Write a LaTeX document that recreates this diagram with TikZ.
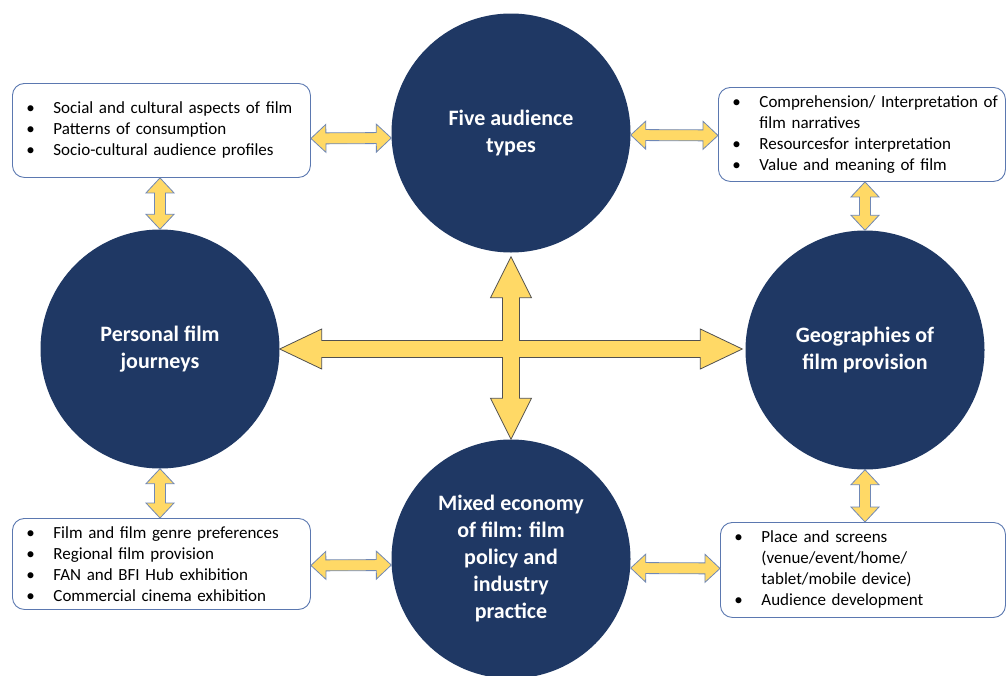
\documentclass[tikz,border=0pt]{standalone}
\usepackage{fontspec}
\setmainfont{Carlito}
\usetikzlibrary{calc}

\definecolor{hubnavy}{HTML}{1F3864}
\definecolor{gold}{HTML}{FFD966}
\definecolor{boxline}{HTML}{5B78B0}
\definecolor{arrowline}{HTML}{7088B5}
\definecolor{crossline}{HTML}{505050}

% bullet and continuation indent for the list boxes
\newcommand{\bul}{\hspace*{14pt}\makebox[27pt][l]{\textbullet}}
\newcommand{\cont}{\hspace*{41pt}}

\begin{document}
\begin{tikzpicture}[x=1pt,y=-1pt,
  hub/.style={circle, fill=hubnavy, minimum size=239pt, inner sep=0pt,
    text=white, font=\fontsize{22}{27}\selectfont\bfseries, align=center},
  infobox/.style={draw=boxline, line width=0.9pt, rounded corners=12pt,
    fill=white, inner xsep=0pt, inner ysep=0pt, align=left,
    font=\fontsize{17}{21}\selectfont, anchor=north west},
  % outlined double-headed block arrow between two points
  fat/.style={draw=arrowline, fill=gold, line width=0.8pt, line join=miter,
    to path={
      -- ($(\tikztostart)!15pt!(\tikztotarget)!14pt!90:(\tikztotarget)$)
      -- ($(\tikztostart)!15pt!(\tikztotarget)!5.5pt!90:(\tikztotarget)$)
      -- ($(\tikztotarget)!15pt!(\tikztostart)!5.5pt!-90:(\tikztostart)$)
      -- ($(\tikztotarget)!15pt!(\tikztostart)!14pt!-90:(\tikztostart)$)
      -- (\tikztotarget)
      -- ($(\tikztotarget)!15pt!(\tikztostart)!14pt!90:(\tikztostart)$)
      -- ($(\tikztotarget)!15pt!(\tikztostart)!5.5pt!90:(\tikztostart)$)
      -- ($(\tikztostart)!15pt!(\tikztotarget)!5.5pt!-90:(\tikztotarget)$)
      -- ($(\tikztostart)!15pt!(\tikztotarget)!14pt!-90:(\tikztotarget)$)
      -- cycle}},
  crossarrow/.style={draw=crossline, fill=gold, line width=0.8pt, line join=miter}
]
\useasboundingbox (0,0) rectangle (1007,675);

% the four hubs
\node[hub] (T) at (511,133) {Five audience\\types};
\node[hub] (L) at (160,349) {Personal film\\journeys};
\node[hub] (R) at (865,350) {Geographies of\\film provision};
\node[hub] (B) at (511,559) {Mixed economy\\of film: film\\policy and\\industry\\practice};

% the four list boxes
\node[infobox, text width=298pt, minimum height=94pt] (TL) at (12,83)
  {\bul Social and cultural aspects of film\\
   \bul Patterns of consumption\\
   \bul Socio-cultural audience profiles};
\node[infobox, text width=287pt, minimum height=94pt] (TR) at (718,87)
  {\bul Comprehension/ Interpretation of\\
   \cont film narratives\\
   \bul Resourcesfor interpretation\\
   \bul Value and meaning of film};
\node[infobox, text width=298pt, minimum height=91pt] (BL) at (12,518)
  {\bul Film and film genre preferences\\
   \bul Regional film provision\\
   \bul FAN and BFI Hub exhibition\\
   \bul Commercial cinema exhibition};
\node[infobox, text width=285pt, minimum height=95pt] (BR) at (720,522)
  {\bul Place and screens\\
   \cont (venue/event/home/\\
   \cont tablet/mobile device)\\
   \bul Audience development};

% central four-way arrow joining the hubs
\coordinate (X) at (T.south |- L.east);
\draw[crossarrow] (L.east)
  -- ($(L.east)+(42,-20)$) -- ($(L.east)+(42,-8.5)$)
  -- ($(X)+(-8.5,-8.5)$)
  -- ($(T.south)+(-8.5,45)$) -- ($(T.south)+(-20.5,45)$)
  -- ($(T.south)+(0,4)$)
  -- ($(T.south)+(20.5,45)$) -- ($(T.south)+(8.5,45)$)
  -- ($(X)+(8.5,-8.5)$)
  -- ($(R.west |- X)+(-45,-8.5)$) -- ($(R.west |- X)+(-45,-20)$)
  -- ($(R.west |- X)+(-3,0)$)
  -- ($(R.west |- X)+(-45,20)$) -- ($(R.west |- X)+(-45,8.5)$)
  -- ($(X)+(8.5,8.5)$)
  -- ($(B.north)+(8.5,-41)$) -- ($(B.north)+(20.5,-41)$)
  -- (B.north)
  -- ($(B.north)+(-20.5,-41)$) -- ($(B.north)+(-8.5,-41)$)
  -- ($(X)+(-8.5,8.5)$)
  -- ($(L.east)+(42,8.5)$) -- ($(L.east)+(42,20)$)
  -- cycle;

% links between boxes and hubs
\draw[fat] ([yshift=-8pt]TL.east) to ([yshift=-5pt]T.west);
\draw[fat] ([yshift=-2pt]T.east) to ([yshift=-1pt]TR.west);
\draw[fat] (L.north |- TL.south) to (L.north);
\draw[fat] (R.north |- TR.south) to (R.north);
\draw[fat] (L.south) to (L.south |- BL.north);
\draw[fat] (R.south) to (R.south |- BR.north);
\draw[fat] ([yshift=-1.5pt]BL.east) to ([yshift=-6pt]B.west);
\draw[fat] ([yshift=-9pt]B.east) to ([yshift=1.5pt]BR.west);
\end{tikzpicture}
\end{document}
